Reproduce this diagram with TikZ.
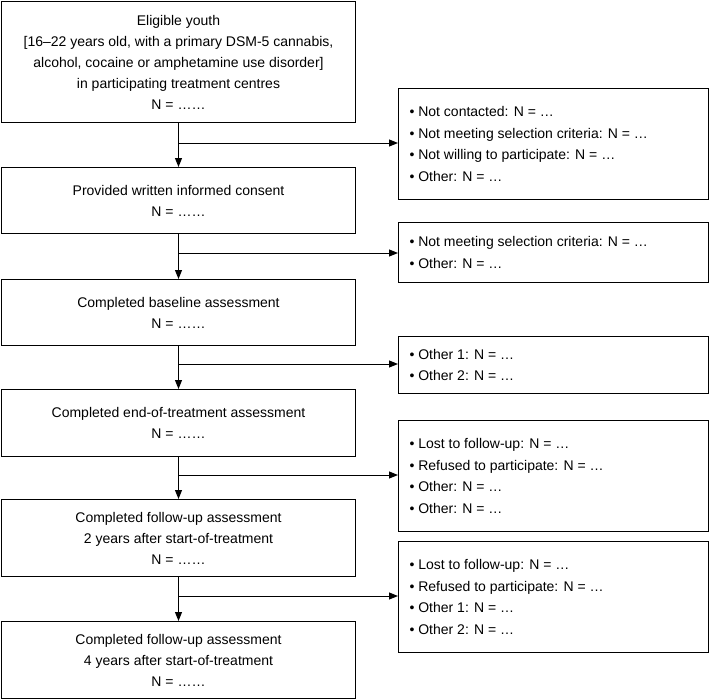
\documentclass[tikz,border=0pt]{standalone}
\usepackage{fontspec}
\setmainfont{Liberation Sans}
\usetikzlibrary{arrows.meta}
\begin{document}
\begin{tikzpicture}[x=1pt,y=-1pt,
 box/.style={draw,line width=1pt,anchor=north west,inner sep=0pt},
 lt/.style={align=center,font=\fontsize{14}{21}\selectfont},
 rt/.style={align=left,anchor=west,font=\fontsize{14}{21.5}\selectfont},
 arr/.style={-{Triangle[length=9pt,width=7pt]},line width=1pt}]
\useasboundingbox (0,0) rectangle (709,699);
\newcommand\lbox[3]{\node[box,minimum width=354pt,minimum height=#3pt] (#1) at (1,#2) {};}
\newcommand\rbox[3]{\node[box,minimum width=310pt,minimum height=#3pt] (#1) at (398,#2) {};}
\lbox{L1}{1}{121}
\lbox{L2}{167}{66}
\lbox{L3}{279}{66}
\lbox{L4}{389}{67}
\lbox{L5}{499}{77}
\lbox{L6}{621}{77}
\rbox{R1}{88}{111}
\rbox{R2}{222}{60}
\rbox{R3}{336}{57}
\rbox{R4}{420}{111}
\rbox{R5}{541}{111}
\node[lt] (t1) at (L1.center) {Eligible youth\\{}[16–22 years old, with a primary DSM-5 cannabis,\\alcohol, cocaine or amphetamine use disorder]\\in participating treatment centres\\N = ……};
\node[lt] (t2) at (L2.center) {Provided written informed consent\\N = ……};
\node[lt] (t3) at (L3.center) {Completed baseline assessment\\N = ……};
\node[lt] (t4) at (L4.center) {Completed end-of-treatment assessment\\N = ……};
\node[lt] (t5) at (L5.center) {Completed follow-up assessment\\2 years after start-of-treatment\\N = ……};
\node[lt] (t6) at (L6.center) {Completed follow-up assessment\\4 years after start-of-treatment\\N = ……};
\node[rt] (s1) at ([xshift=8pt]R1.west) {• Not contacted: N = …\\• Not meeting selection criteria: N = …\\• Not willing to participate: N = …\\• Other: N = …};
\node[rt] (s2) at ([xshift=8pt]R2.west) {• Not meeting selection criteria: N = …\\• Other: N = …};
\node[rt] (s3) at ([xshift=8pt]R3.west) {• Other 1: N = …\\• Other 2: N = …};
\node[rt] (s4) at ([xshift=8pt]R4.west) {• Lost to follow-up: N = …\\• Refused to participate: N = …\\• Other: N = …\\• Other: N = …};
\node[rt] (s5) at ([xshift=8pt]R5.west) {• Lost to follow-up: N = …\\• Refused to participate: N = …\\• Other 1: N = …\\• Other 2: N = …};
\coordinate (b1) at (178,143);
\coordinate (b2) at (178,253);
\coordinate (b3) at (178,364);
\coordinate (b4) at (178,475);
\coordinate (b5) at (178,596);
\foreach \a/\b/\c/\r in {L1/L2/b1/R1,L2/L3/b2/R2,L3/L4/b3/R3,L4/L5/b4/R4,L5/L6/b5/R5}{
 \draw[arr] (\a.south) -- (\b.north);
 \draw[arr] (\c) -- (\c -| \r.west);
}
\end{tikzpicture}
\end{document}
